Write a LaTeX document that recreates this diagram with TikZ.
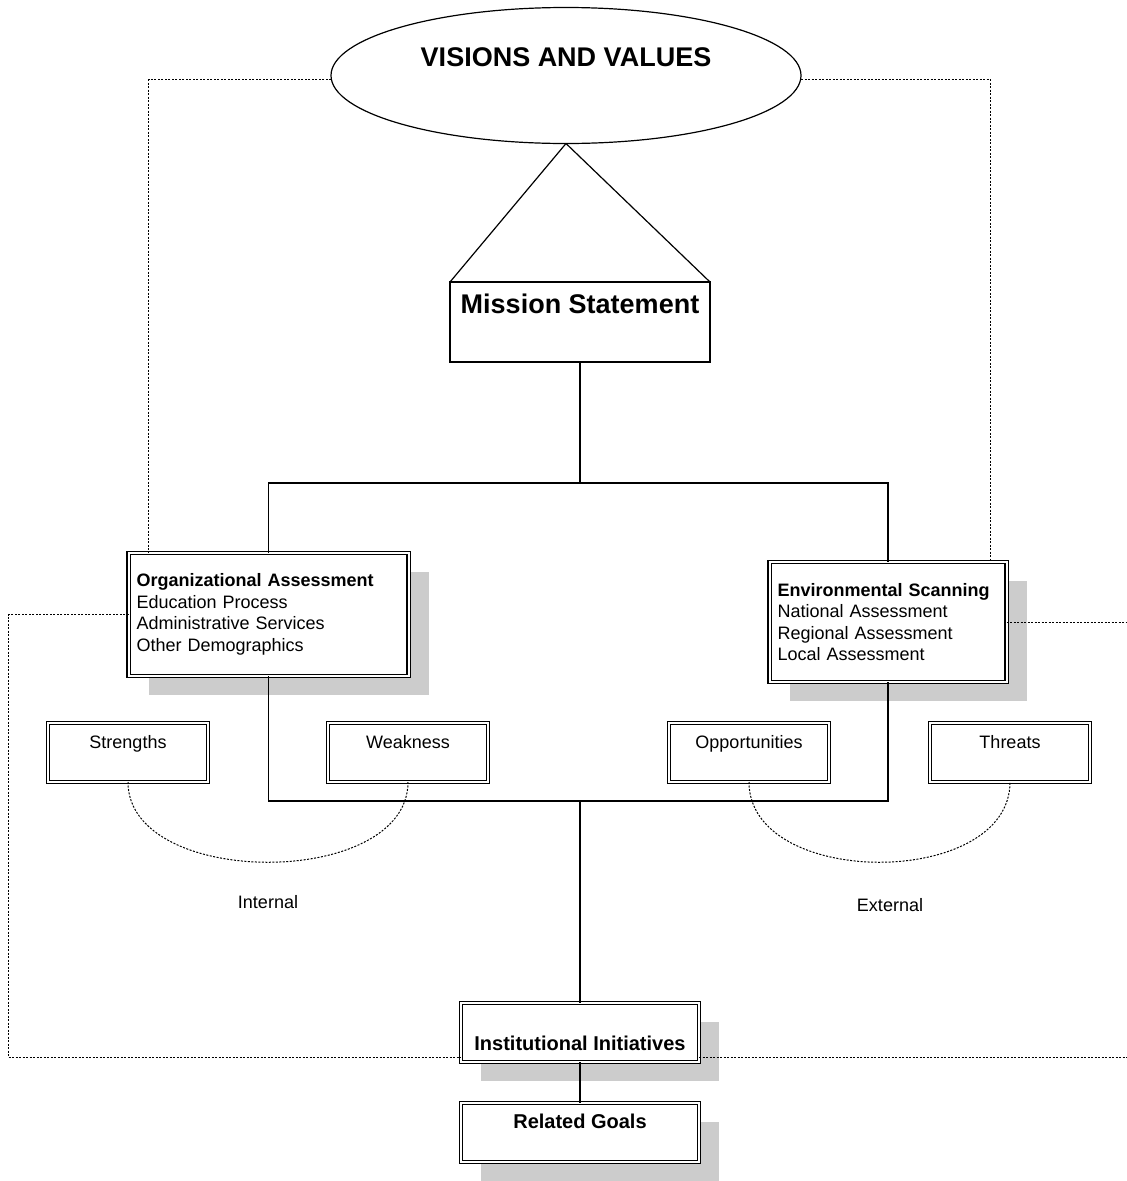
\documentclass[tikz,border=0pt]{standalone}
\usepackage{fontspec}
\setmainfont{Liberation Sans}
\usetikzlibrary{shapes.geometric,shadows}
\begin{document}
\begin{tikzpicture}[%
    x=1pt,y=1pt,
    every node/.style={%
      inner sep=3pt,outer sep=0pt,font=\fontsize{18}{21.5}\selectfont},
    bigtext/.style={font=\fontsize{27}{32}\selectfont\bfseries},
    boldtext/.style={font=\fontsize{20}{24}\selectfont\bfseries},
    bline/.style={line width=1.2pt},
    dblbox/.style={draw,fill=white,rectangle,double,line width=1.1pt,
      double distance=2pt},
    shadebox/.style={drop shadow={shadow xshift=20pt,shadow yshift=-19pt,
        fill=black!20,opacity=1}},
    smallbox/.style={dblbox,minimum width=160pt,text height=22pt,text depth=31pt},
    dotline/.style={line width=1pt,dash pattern=on 2pt off 1.5pt}
    ]
    \useasboundingbox (0,0) rectangle (1127,-1181);
    \node[draw,fill=white,ellipse,bline,bigtext,minimum width=470pt,
      minimum height=136pt,inner sep=0pt,text height=19pt,text depth=37pt]
    at(566,-75.5)(vision){VISIONS AND VALUES};
    \node[draw,fill=white,bline,bigtext,minimum width=260pt,text height=28pt,
      text depth=46pt]at(580,-322)(mission){Mission Statement};
    \node[dblbox,shadebox,text width=264pt,align=left,minimum height=123pt,
      inner xsep=8pt]at(268.5,-614.5)(org)
    {\textbf{Organizational Assessment}\\Education Process\\
      Administrative Services\\Other Demographics};
    \node[dblbox,shadebox,text width=221pt,align=left,minimum height=120pt,
      inner xsep=8pt]at(888,-622)(env)
    {\textbf{Environmental Scanning}\\National Assessment\\
      Regional Assessment\\Local Assessment};
    \node[smallbox]at(128,-752.5)(str){Strengths};
    \node[smallbox]at(408,-752.5)(weak){Weakness};
    \node[smallbox]at(749,-752.5)(opp){Opportunities};
    \node[smallbox]at(1010,-752.5)(thr){Threats};
    \node at(268,-902)(intl){Internal};
    \node at(890,-905)(extl){External};
    \node[dblbox,shadebox,boldtext,minimum width=238pt,text height=44pt,
      text depth=9pt]at(580,-1032.5)(inst){Institutional Initiatives};
    \node[dblbox,shadebox,boldtext,minimum width=238pt,text height=22pt,
      text depth=31pt]at(580,-1132.5)(goals){Related Goals};
    % tree
    \coordinate (tbar) at (580,-483);
    \coordinate (bbar) at (580,-801);
    \draw[bline](vision.south)--(mission.north west);
    \draw[bline](vision.south)--(mission.north east);
    \draw[bline](mission.south)--(tbar);
    \draw[bline](org.north)|-(tbar)-|(env.north);
    \draw[bline](org.south)|-(bbar)-|(env.south);
    \draw[bline](bbar)--(inst.north);
    \draw[bline](inst.south)--(goals.north);
    % dotted links
    \coordinate (lft) at (8,0);
    \coordinate (rgt) at (1127,0);
    \coordinate (ilft) at ([yshift=5pt]inst.south west);
    \coordinate (irgt) at ([yshift=5pt]inst.south east);
    \draw[dotline]([yshift=-4pt]vision.west)-|([xshift=20pt]org.north west);
    \draw[dotline]([yshift=-4pt]vision.east)-|([xshift=-16pt]env.north east);
    \draw[dotline](org.west)--(org.west -| lft)|-(ilft);
    \draw[dotline](env.east)--(env.east -| rgt);
    \draw[dotline](irgt)--(irgt -| rgt);
    \draw[dotline](str.south)..controls +(0,-107) and +(0,-107)..(weak.south);
    \draw[dotline](opp.south)..controls +(0,-107) and +(0,-107)..(thr.south);
  \end{tikzpicture}
\end{document}
